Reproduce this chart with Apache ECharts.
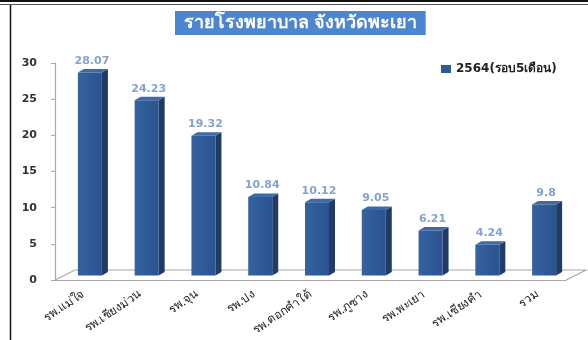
<!DOCTYPE html>
<html>
<head>
<meta charset="utf-8">
<script src="https://cdn.jsdelivr.net/npm/echarts@6/dist/echarts.min.js"></script>
<style>
html,body{margin:0;padding:0;background:#fff;}
#c{width:588px;height:340px;}
</style>
</head>
<body>
<div id="c"></div>
<script>
const titleText = 'รายโรงพยาบาล จังหวัดพะเยา';
const seriesName = '2564(รอบ5เดือน)';
const categories = ['รพ.แม่ใจ','รพ.เชียงม่วน','รพ.จุน','รพ.ปง','รพ.ดอกคำใต้','รพ.ภูซาง','รพ.พะเยา','รพ.เชียงคำ','รวม'];
const values = [28.07, 24.23, 19.32, 10.84, 10.12, 9.05, 6.21, 4.24, 9.8];
const yTicks = [0, 5, 10, 15, 20, 25, 30];

const chart = echarts.init(document.getElementById('c'), null, {renderer:'canvas'});

const FRONT_W = 24, SHIFT_X = 6.5, SHIFT_Y = -4.5, DEPTH_X = 6, DEPTH_Y = -3.5;

function renderBar(params, api) {
  const idx = api.value(0);
  const v = api.value(1);
  const top = api.coord([idx, v]);
  const base = api.coord([idx, 0]);
  const cx = base[0] + SHIFT_X;
  const x0 = cx - FRONT_W / 2, x1 = cx + FRONT_W / 2;
  const yb = base[1] + SHIFT_Y, yt = top[1] + SHIFT_Y;
  return {
    type: 'group',
    children: [
      { type: 'polygon', shape: { points: [[x1, yb], [x1 + DEPTH_X, yb + DEPTH_Y], [x1 + DEPTH_X, yt + DEPTH_Y], [x1, yt]] },
        style: { fill: '#1F3C66' } },
      { type: 'polygon', shape: { points: [[x0, yt], [x1, yt], [x1 + DEPTH_X, yt + DEPTH_Y], [x0 + DEPTH_X, yt + DEPTH_Y]] },
        style: { fill: '#3E6AA8' } },
      { type: 'rect', shape: { x: x0, y: yt, width: FRONT_W, height: yb - yt },
        style: { fill: new echarts.graphic.LinearGradient(0, 0, 1, 0, [{offset:0,color:'#3562A0'},{offset:1,color:'#2A5390'}]) } },
      { type: 'text', x: cx + 2, y: yt - 6,
        style: { text: String(values[idx]), fill: '#86A2D0', font: 'bold 11px "DejaVu Sans"', align: 'center', verticalAlign: 'bottom' } }
    ]
  };
}

function renderFloor(params, api) {
  const first = api.coord([0, 0]);
  const last = api.coord([categories.length - 1, 0]);
  const band = api.size([1, 0])[0];
  const lx = first[0] - band / 2, rx = last[0] + band / 2, y = first[1];
  const dx = 20, dy = -10;
  return {
    type: 'polyline',
    shape: { points: [[lx, y], [lx + dx, y + dy], [rx + dx, y + dy], [rx, y]] },
    style: { stroke: '#A8A8A8', lineWidth: 1.2, fill: null }
  };
}

const option = {
  animation: false,
  title: {
    text: titleText, left: 175, top: 11,
    backgroundColor: '#4C86D1', padding: [1, 9, 1, 9],
    textStyle: { color: '#ffffff', fontSize: 18, lineHeight: 22, fontWeight: 'bold', fontFamily: 'Noto Sans, sans-serif' }
  },
  legend: {
    data: [seriesName], left: 436, top: 58, icon: 'rect', itemWidth: 10, itemHeight: 8, itemGap: 5,
    textStyle: { color: '#222', fontSize: 12, fontWeight: 'bold', fontFamily: 'DejaVu Sans, sans-serif' }
  },
  grid: { left: 55, right: 22, top: 63, bottom: 60 },
  xAxis: {
    type: 'category', data: categories,
    axisLine: { lineStyle: { color: '#A8A8A8', width: 1.2 } },
    axisTick: { length: 4, lineStyle: { color: '#A8A8A8' } },
    axisLabel: { rotate: 34, fontSize: 12, color: '#222', margin: 13, fontFamily: 'Noto Sans, sans-serif', interval: 0 }
  },
  yAxis: {
    type: 'value', min: 0, max: 30, interval: 5,
    axisLine: { show: true, lineStyle: { color: '#A8A8A8', width: 1.2 } },
    axisTick: { show: true, length: 4, lineStyle: { color: '#A8A8A8' } },
    splitLine: { show: false },
    axisLabel: { fontSize: 11, fontWeight: 'bold', color: '#333', margin: 18, fontFamily: 'DejaVu Sans' }
  },
  graphic: [
    { type: 'line', shape: { x1: 0, y1: 1, x2: 588, y2: 1 }, style: { stroke: '#111', lineWidth: 2 } },
    { type: 'line', shape: { x1: 0, y1: 4.5, x2: 588, y2: 4.5 }, style: { stroke: '#555', lineWidth: 1 } },
    { type: 'line', shape: { x1: 10.5, y1: 5, x2: 10.5, y2: 340 }, style: { stroke: '#111', lineWidth: 1.5 } }
  ],
  series: [
    { type: 'custom', name: 'floor', renderItem: renderFloor, data: [[0, 0]], silent: true, z: 1, tooltip: { show: false } },
    { type: 'custom', name: seriesName, renderItem: renderBar, itemStyle: { color: '#2F5B97' },
      encode: { x: 0, y: 1 }, z: 2,
      data: values.map((v, i) => [i, v]) }
  ]
};
chart.setOption(option);
</script>
</body>
</html>
